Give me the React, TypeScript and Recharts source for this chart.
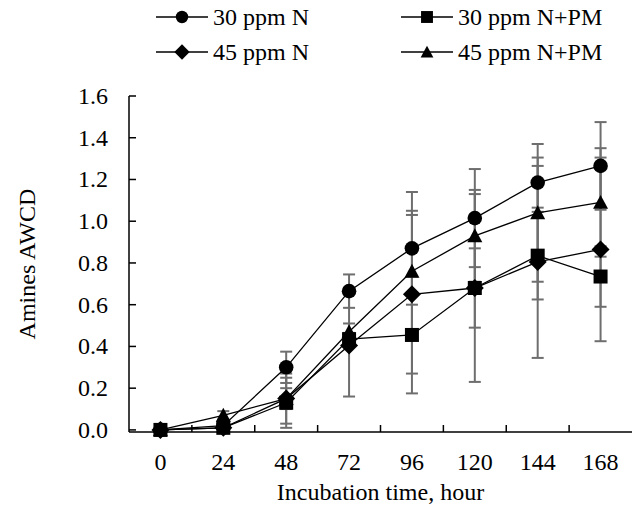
import { ComposedChart, Line, XAxis, YAxis, ErrorBar } from "recharts"

const hours = [0, 24, 48, 72, 96, 120, 144, 168]
const yTicks = [0, 0.2, 0.4, 0.6, 0.8, 1.0, 1.2, 1.4, 1.6]

const n30 = [0, 0.02, 0.3, 0.665, 0.87, 1.015, 1.185, 1.265]
const n30Err = [0.01, 0.01, 0.075, 0.08, 0.27, 0.235, 0.12, 0.21]
const n30pm = [0, 0.01, 0.13, 0.435, 0.455, 0.68, 0.835, 0.735]
const n30pmErr = [0.01, 0.01, 0.12, 0.03, 0.28, 0.19, 0.21, 0.145]
const n45 = [0, 0.01, 0.15, 0.405, 0.65, 0.68, 0.805, 0.865]
const n45Err = [0.01, 0.01, 0.12, 0.245, 0.38, 0.45, 0.46, 0.44]
const n45pm = [0, 0.07, 0.15, 0.47, 0.76, 0.93, 1.04, 1.09]
const n45pmErr = [0.01, 0.02, 0.05, 0.04, 0.29, 0.22, 0.33, 0.26]

const data = hours.map((h, i) => ({
  hour: h,
  n30: n30[i],
  n30e: n30Err[i],
  n30pm: n30pm[i],
  n30pme: n30pmErr[i],
  n45: n45[i],
  n45e: n45Err[i],
  n45pm: n45pm[i],
  n45pme: n45pmErr[i],
}))

const FONT = "'Liberation Serif', 'Times New Roman', serif"
const FS = 24
const BAR = "#6e6e6e"

type Kind = "circle" | "square" | "diamond" | "triangle"

const marker = (kind: Kind, cx: number, cy: number, s = 1) => {
  if (kind === "circle") return <circle cx={cx} cy={cy} r={7.3 * s} fill="#000" />
  if (kind === "square")
    return <rect x={cx - 7 * s} y={cy - 7 * s} width={14 * s} height={14 * s} fill="#000" />
  if (kind === "diamond") {
    const d = 9 * s
    return <polygon points={`${cx},${cy - d} ${cx + d},${cy} ${cx},${cy + d} ${cx - d},${cy}`} fill="#000" />
  }
  const h = 7.5 * s
  return <polygon points={`${cx},${cy - h} ${cx + h},${cy + h * 0.85} ${cx - h},${cy + h * 0.85}`} fill="#000" />
}

const makeDot = (kind: Kind) => (props: any) => {
  const { cx, cy, index } = props
  if (cx == null || cy == null) return <g key={index} />
  return <g key={index}>{marker(kind, cx, cy)}</g>
}

const XTick = ({ x, y, payload, index }: any) => {
  const half = payload.offset || 31.4
  return (
    <g>
      {index > 0 && <line x1={x - half} x2={x - half} y1={y} y2={y - 7} stroke="#000" strokeWidth={1.5} />}
      <text x={x} y={y + 38} textAnchor="middle" fontFamily={FONT} fontSize={FS} fill="#000">
        {payload.value}
      </text>
    </g>
  )
}

const YTick = ({ x, y, payload }: any) => (
  <g>
    <line x1={x} x2={x + 7} y1={y} y2={y} stroke="#000" strokeWidth={1.5} />
    <text x={x - 21} y={y + 8} textAnchor="end" fontFamily={FONT} fontSize={FS} fill="#000">
      {payload.value.toFixed(1)}
    </text>
  </g>
)

const legendItems: { name: string; kind: Kind; left: number; top: number }[] = [
  { name: "30 ppm N", kind: "circle", left: 156, top: 17 },
  { name: "30 ppm N+PM", kind: "square", left: 401, top: 17 },
  { name: "45 ppm N", kind: "diamond", left: 156, top: 52 },
  { name: "45 ppm N+PM", kind: "triangle", left: 401, top: 52 },
]

const LegendBox = () => (
  <svg width={632} height={80} style={{ position: "absolute", left: 0, top: 0 }}>
    {legendItems.map((it) => (
      <g key={it.name}>
        <line x1={it.left} x2={it.left + 52} y1={it.top} y2={it.top} stroke="#000" strokeWidth={1.5} />
        {marker(it.kind, it.left + 26, it.top, 0.85)}
        <text x={it.left + 57} y={it.top + 8} fontFamily={FONT} fontSize={FS} fill="#000">
          {it.name}
        </text>
      </g>
    ))}
  </svg>
)

export default function App() {
  return (
    <div style={{ position: "absolute", left: 0, top: 0, width: 632, height: 512, background: "#fff" }}>
      <ComposedChart
        width={632}
        height={512}
        data={data}
        margin={{ top: 96, right: 0, bottom: 0, left: 12 }}
      >
        <XAxis
          dataKey="hour"
          type="category"
          scale="band"
          height={80}
          tickSize={0}
          tickMargin={0}
          tickLine={false}
          axisLine={{ stroke: "#000", strokeWidth: 1.5 }}
          tick={<XTick />}
          interval={0}
          label={{
            value: "Incubation time, hour",
            position: "insideBottom",
            offset: 12,
            style: { fontFamily: FONT, fontSize: FS, fill: "#000" },
          }}
        />
        <YAxis
          type="number"
          domain={[0, 1.6]}
          ticks={yTicks}
          width={117}
          tickSize={0}
          tickMargin={0}
          tickLine={false}
          axisLine={{ stroke: "#000", strokeWidth: 1.5 }}
          tick={<YTick />}
          interval={0}
          label={{
            value: "Amines AWCD",
            angle: -90,
            position: "insideLeft",
            offset: 14,
            style: { fontFamily: FONT, fontSize: FS, fill: "#000", textAnchor: "middle" },
          }}
        />
        <Line dataKey="n30pm" stroke="#000" strokeWidth={1.3} dot={makeDot("square")} isAnimationActive={false}>
          <ErrorBar dataKey="n30pme" width={6} stroke={BAR} strokeWidth={2} direction="y" />
        </Line>
        <Line dataKey="n45" stroke="#000" strokeWidth={1.3} dot={makeDot("diamond")} isAnimationActive={false}>
          <ErrorBar dataKey="n45e" width={6} stroke={BAR} strokeWidth={2} direction="y" />
        </Line>
        <Line dataKey="n45pm" stroke="#000" strokeWidth={1.3} dot={makeDot("triangle")} isAnimationActive={false}>
          <ErrorBar dataKey="n45pme" width={6} stroke={BAR} strokeWidth={2} direction="y" />
        </Line>
        <Line dataKey="n30" stroke="#000" strokeWidth={1.3} dot={makeDot("circle")} isAnimationActive={false}>
          <ErrorBar dataKey="n30e" width={6} stroke={BAR} strokeWidth={2} direction="y" />
        </Line>
      </ComposedChart>
      <LegendBox />
    </div>
  )
}
